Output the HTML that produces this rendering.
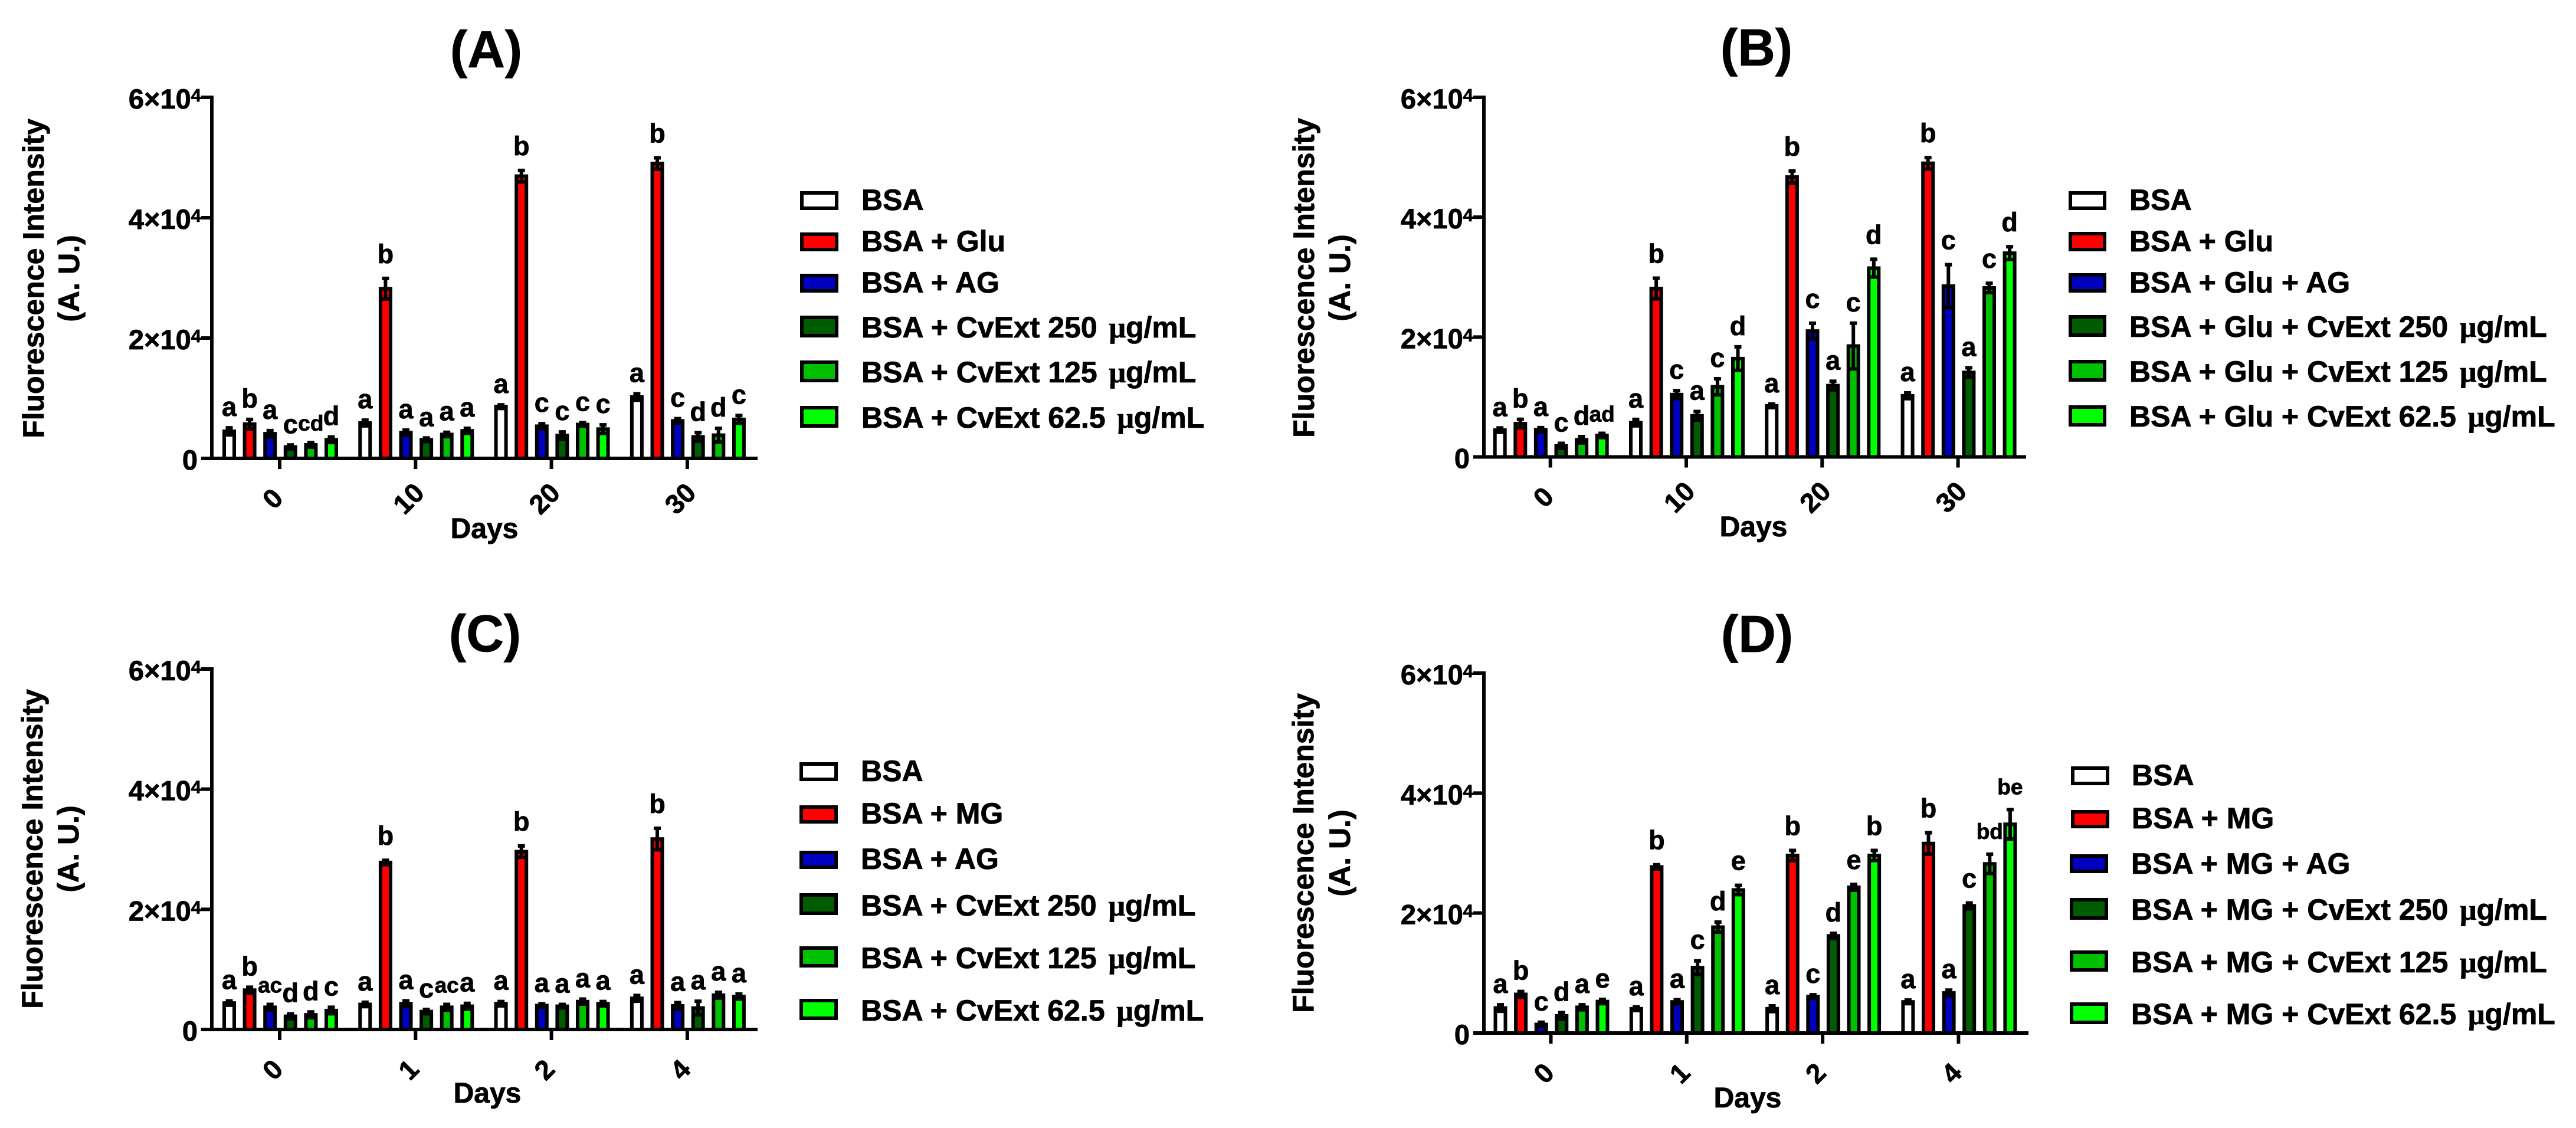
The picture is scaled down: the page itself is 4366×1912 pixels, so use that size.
<!DOCTYPE html>
<html lang="en">
<head>
<meta charset="utf-8">
<title>Fluorescence intensity panels A to D</title>
<style>
  html, body { margin: 0; padding: 0; background: #fff; }
  svg { display: block; }
  text { font-family: "Liberation Sans", sans-serif; font-weight: bold; fill: #000; stroke: #000; stroke-width: 0.8px; }
  .title { font-size: 88px; text-anchor: middle; }
  .axis-title { font-size: 48px; text-anchor: middle; }
  .y-title { font-size: 50px; text-anchor: middle; }
  .legend-text { font-size: 50px; }
  .mu { font-family: "Liberation Serif", serif; }
</style>
</head>
<body>
<svg id="figure" xmlns="http://www.w3.org/2000/svg" width="4366" height="1912" viewBox="0 0 4366 1912">
  <rect x="0" y="0" width="4366" height="1912" fill="#ffffff"/>

  <g id="panel-a">
    <text class="title" x="824" y="114">(A)</text>
    <text class="y-title" transform="translate(74 472) rotate(-90)">Fluorescence Intensity</text>
    <text class="y-title" transform="translate(134 472) rotate(-90)">(A. U.)</text>
    <text class="axis-title" x="821" y="912">Days</text>
    <g>
      <rect x="1359" y="327" width="59" height="26" fill="#ffffff" stroke="#000" stroke-width="6"/>
      <text class="legend-text" x="1460" y="356">BSA</text>
      <rect x="1359" y="397" width="59" height="26" fill="#ff0000" stroke="#000" stroke-width="6"/>
      <text class="legend-text" x="1460" y="426">BSA + Glu</text>
      <rect x="1359" y="467" width="59" height="26" fill="#0000c0" stroke="#000" stroke-width="6"/>
      <text class="legend-text" x="1460" y="496">BSA + AG</text>
      <rect x="1359" y="538" width="59" height="31" fill="#005c00" stroke="#000" stroke-width="6"/>
      <text class="legend-text" x="1460" y="572">BSA + CvExt 250 <tspan class="mu" dx="6">μ</tspan>g/mL</text>
      <rect x="1359" y="614" width="59" height="31" fill="#00c000" stroke="#000" stroke-width="6"/>
      <text class="legend-text" x="1460" y="648">BSA + CvExt 125 <tspan class="mu" dx="6">μ</tspan>g/mL</text>
      <rect x="1359" y="691" width="59" height="31" fill="#00ff00" stroke="#000" stroke-width="6"/>
      <text class="legend-text" x="1460" y="725">BSA + CvExt 62.5 <tspan class="mu" dx="6">μ</tspan>g/mL</text>
    </g>
  </g>

  <g id="panel-b">
    <text class="title" x="2977" y="111">(B)</text>
    <text class="y-title" transform="translate(2227 471) rotate(-90)">Fluorescence Intensity</text>
    <text class="y-title" transform="translate(2288 471) rotate(-90)">(A. U.)</text>
    <text class="axis-title" x="2972" y="909">Days</text>
    <g>
      <rect x="3509" y="327" width="58" height="26" fill="#ffffff" stroke="#000" stroke-width="6"/>
      <text class="legend-text" x="3609" y="356">BSA</text>
      <rect x="3509" y="396" width="58" height="27" fill="#ff0000" stroke="#000" stroke-width="6"/>
      <text class="legend-text" x="3609" y="426">BSA + Glu</text>
      <rect x="3509" y="466" width="58" height="27" fill="#0000c0" stroke="#000" stroke-width="6"/>
      <text class="legend-text" x="3609" y="496">BSA + Glu + AG</text>
      <rect x="3509" y="537" width="58" height="31" fill="#005c00" stroke="#000" stroke-width="6"/>
      <text class="legend-text" x="3609" y="571">BSA + Glu + CvExt 250 <tspan class="mu" dx="6">μ</tspan>g/mL</text>
      <rect x="3509" y="613" width="58" height="31" fill="#00c000" stroke="#000" stroke-width="6"/>
      <text class="legend-text" x="3609" y="647">BSA + Glu + CvExt 125 <tspan class="mu" dx="6">μ</tspan>g/mL</text>
      <rect x="3509" y="690" width="58" height="30" fill="#00ff00" stroke="#000" stroke-width="6"/>
      <text class="legend-text" x="3609" y="723">BSA + Glu + CvExt 62.5 <tspan class="mu" dx="6">μ</tspan>g/mL</text>
    </g>
  </g>

  <g id="panel-c">
    <text class="title" x="822" y="1104">(C)</text>
    <text class="y-title" transform="translate(72 1439) rotate(-90)">Fluorescence Intensity</text>
    <text class="y-title" transform="translate(133 1439) rotate(-90)">(A. U.)</text>
    <text class="axis-title" x="826" y="1869">Days</text>
    <g>
      <rect x="1358" y="1295" width="59" height="26" fill="#ffffff" stroke="#000" stroke-width="6"/>
      <text class="legend-text" x="1459" y="1324">BSA</text>
      <rect x="1358" y="1368" width="59" height="25" fill="#ff0000" stroke="#000" stroke-width="6"/>
      <text class="legend-text" x="1459" y="1396">BSA + MG</text>
      <rect x="1358" y="1445" width="59" height="25" fill="#0000c0" stroke="#000" stroke-width="6"/>
      <text class="legend-text" x="1459" y="1473">BSA + AG</text>
      <rect x="1358" y="1517" width="59" height="31" fill="#005c00" stroke="#000" stroke-width="6"/>
      <text class="legend-text" x="1459" y="1552">BSA + CvExt 250 <tspan class="mu" dx="6">μ</tspan>g/mL</text>
      <rect x="1358" y="1607" width="59" height="30" fill="#00c000" stroke="#000" stroke-width="6"/>
      <text class="legend-text" x="1459" y="1641">BSA + CvExt 125 <tspan class="mu" dx="6">μ</tspan>g/mL</text>
      <rect x="1358" y="1696" width="59" height="30" fill="#00ff00" stroke="#000" stroke-width="6"/>
      <text class="legend-text" x="1459" y="1730">BSA + CvExt 62.5 <tspan class="mu" dx="6">μ</tspan>g/mL</text>
    </g>
  </g>

  <g id="panel-d">
    <text class="title" x="2978" y="1105">(D)</text>
    <text class="y-title" transform="translate(2226 1446) rotate(-90)">Fluorescence Intensity</text>
    <text class="y-title" transform="translate(2288 1446) rotate(-90)">(A. U.)</text>
    <text class="axis-title" x="2962" y="1877">Days</text>
    <g>
      <rect x="3513" y="1302" width="59" height="26" fill="#ffffff" stroke="#000" stroke-width="6"/>
      <text class="legend-text" x="3613" y="1331">BSA</text>
      <rect x="3513" y="1376" width="59" height="25" fill="#ff0000" stroke="#000" stroke-width="6"/>
      <text class="legend-text" x="3613" y="1404">BSA + MG</text>
      <rect x="3511" y="1451" width="59" height="26" fill="#0000c0" stroke="#000" stroke-width="6"/>
      <text class="legend-text" x="3612" y="1481">BSA + MG + AG</text>
      <rect x="3511" y="1525" width="59" height="31" fill="#005c00" stroke="#000" stroke-width="6"/>
      <text class="legend-text" x="3612" y="1559">BSA + MG + CvExt 250 <tspan class="mu" dx="6">μ</tspan>g/mL</text>
      <rect x="3511" y="1614" width="59" height="30" fill="#00c000" stroke="#000" stroke-width="6"/>
      <text class="legend-text" x="3612" y="1648">BSA + MG + CvExt 125 <tspan class="mu" dx="6">μ</tspan>g/mL</text>
      <rect x="3511" y="1702" width="59" height="31" fill="#00ff00" stroke="#000" stroke-width="6"/>
      <text class="legend-text" x="3612" y="1736">BSA + MG + CvExt 62.5 <tspan class="mu" dx="6">μ</tspan>g/mL</text>
    </g>
  </g>
</svg>

<script>
// ---- chart data (one row per day, one column per series) ----
const categoriesDays30 = ['0', '10', '20', '30'];
const categoriesDays4 = ['0', '1', '2', '4'];
const seriesNames = ['bsa', 'stressor', 'ag', 'cvext-250', 'cvext-125', 'cvext-62'];
const seriesColors = ['#ffffff', '#ff0000', '#0000c0', '#005c00', '#00c000', '#00ff00'];
const yTickValues = [0, 20000, 40000, 60000];
const yTickMantissas = ['0', '2×10', '4×10', '6×10'];
const yTickExponents = ['', '4', '4', '4'];

const panelAValues = [
  [4500, 5700, 4100, 1900, 2250, 3100],
  [5880, 28200, 4280, 3090, 3980, 4580],
  [8600, 46900, 5350, 3800, 5640, 4870],
  [10200, 49000, 6240, 3570, 3860, 6480]
];
const panelAErrors = [
  [590, 780, 520, 330, 390, 460],
  [480, 1720, 420, 300, 360, 420],
  [300, 950, 420, 600, 300, 710],
  [530, 950, 360, 710, 1130, 650]
];
const panelALetters = [
  ['a', 'b', 'a', 'c', 'cd', 'd'],
  ['a', 'b', 'a', 'a', 'a', 'a'],
  ['a', 'b', 'c', 'c', 'c', 'c'],
  ['a', 'b', 'c', 'd', 'd', 'c']
];

const panelBValues = [
  [4470, 5550, 4530, 1850, 2860, 3580],
  [5720, 28100, 10400, 6860, 11700, 16400],
  [8530, 46700, 21000, 11900, 18500, 31500],
  [10200, 49000, 28500, 14100, 28200, 34000]
];
const panelBErrors = [
  [360, 720, 360, 420, 540, 360],
  [540, 1730, 660, 720, 1340, 1970],
  [300, 1010, 1310, 720, 3820, 1490],
  [480, 950, 3580, 780, 780, 1070]
];
const panelBLetters = [
  ['a', 'b', 'a', 'c', 'd', 'ad'],
  ['a', 'b', 'c', 'a', 'c', 'd'],
  ['a', 'b', 'c', 'a', 'c', 'd'],
  ['a', 'b', 'c', 'a', 'c', 'd']
];

const panelCValues = [
  [4400, 6550, 3690, 2200, 2440, 3150],
  [4170, 27800, 4290, 2980, 3690, 3870],
  [4290, 29600, 3990, 3870, 4640, 4290],
  [5180, 31700, 3930, 3570, 5710, 5480]
];
const panelCErrors = [
  [360, 480, 480, 420, 480, 540],
  [360, 360, 480, 360, 480, 480],
  [360, 950, 300, 300, 420, 360],
  [480, 1790, 540, 1130, 480, 420]
];
const panelCLetters = [
  ['a', 'b', 'ac', 'd', 'd', 'c'],
  ['a', 'b', 'a', 'c', 'ac', 'a'],
  ['a', 'b', 'a', 'a', 'a', 'a'],
  ['a', 'b', 'a', 'a', 'a', 'a']
];

const panelDValues = [
  [4170, 6440, 1430, 2860, 4290, 5250],
  [4050, 27700, 5190, 10900, 17650, 23850],
  [4050, 29600, 6080, 16200, 24300, 29600],
  [5190, 31600, 6680, 21200, 28200, 34800]
];
const panelDErrors = [
  [540, 480, 360, 540, 420, 360],
  [300, 360, 360, 1130, 840, 780],
  [480, 840, 300, 420, 480, 840],
  [300, 1790, 480, 480, 1610, 2440]
];
const panelDLetters = [
  ['a', 'b', 'c', 'd', 'a', 'e'],
  ['a', 'b', 'a', 'c', 'd', 'e'],
  ['a', 'b', 'c', 'd', 'e', 'b'],
  ['a', 'b', 'a', 'c', 'bd', 'be']
];

// ---- layout (geometry only, separate from the data above) ----
const Y_MAX = 60000;
const GROUP_STEP = 230.3;
const BAR_STEP = 34.6;
const BAR_OUTER = 23;
const STROKE = 6;
const CAP = 12;

const panels = [
  { id: 'panel-a', key: 'a', axisX: 359, left: 341, right: 1284, tick0: 474, top: 165, zero: 777,
    categories: categoriesDays30, values: panelAValues, errors: panelAErrors, letters: panelALetters },
  { id: 'panel-b', key: 'b', axisX: 2515, left: 2497, right: 3434, tick0: 2627.7, top: 165, zero: 774.5,
    categories: categoriesDays30, values: panelBValues, errors: panelBErrors, letters: panelBLetters },
  { id: 'panel-c', key: 'c', axisX: 359, left: 341, right: 1284, tick0: 474, top: 1134, zero: 1745,
    categories: categoriesDays4, values: panelCValues, errors: panelCErrors, letters: panelCLetters },
  { id: 'panel-d', key: 'd', axisX: 2515, left: 2497, right: 3438, tick0: 2628.5, top: 1141, zero: 1751,
    categories: categoriesDays4, values: panelDValues, errors: panelDErrors, letters: panelDLetters }
];

const SVG_NS = 'http://www.w3.org/2000/svg';

function make(tag, attrs) {
  const el = document.createElementNS(SVG_NS, tag);
  for (const k in attrs) el.setAttribute(k, attrs[k]);
  return el;
}

// axis functions
function yScale(p, v) {
  return p.zero - (v / Y_MAX) * (p.zero - p.top);
}
function xTick(p, groupIndex) {
  return p.tick0 + groupIndex * GROUP_STEP;
}
function xBar(p, groupIndex, seriesIndex) {
  return xTick(p, groupIndex) + (seriesIndex - 2.5) * BAR_STEP + 1;
}

function drawPanel(p) {
  const root = document.getElementById(p.id);

  // bars, error bars, significance letters
  p.values.forEach(function (row, g) {
    row.forEach(function (value, s) {
      const cx = xBar(p, g, s);
      const yTop = yScale(p, value);

      const bar = make('rect', {
        x: cx - (BAR_OUTER - STROKE) / 2,
        y: yTop,
        width: BAR_OUTER - STROKE,
        height: Math.max(0, p.zero - yTop),
        fill: seriesColors[s],
        stroke: '#000',
        'stroke-width': STROKE
      });
      
      
      root.appendChild(bar);

      const err = p.errors[g][s];
      const yHi = yScale(p, value + err);
      const yLo = yScale(p, value - err);
      const errorPath = make('path', {
        d: 'M' + (cx - CAP / 2) + ' ' + yHi + 'H' + (cx + CAP / 2) +
           'M' + cx + ' ' + yHi + 'V' + yLo +
           'M' + (cx - CAP / 2) + ' ' + yLo + 'H' + (cx + CAP / 2),
        fill: 'none',
        stroke: '#000',
        'stroke-width': STROKE
      });
      
      
      root.appendChild(errorPath);

      const word = p.letters[g][s];
      const lift = value > 20000 ? 26 : 20;
      const label = make('text', {
        x: cx,
        y: yHi - lift,
        'text-anchor': 'middle',
        'font-size': word.length > 1 ? 37 : 45
      });
      label.textContent = word;
      
      
      root.appendChild(label);
    });
  });

  // y axis
  const yAxis = make('line', {
    x1: p.axisX, x2: p.axisX, y1: p.top - 3, y2: p.zero,
    stroke: '#000', 'stroke-width': STROKE
  });
  
  
  root.appendChild(yAxis);

  yTickValues.forEach(function (tv, i) {
    const y = yScale(p, tv);
    const tick = make('line', {
      x1: p.axisX - 18, x2: p.axisX, y1: y, y2: y,
      stroke: '#000', 'stroke-width': STROKE
    });
    
    
    root.appendChild(tick);

    const label = make('text', {
      x: p.axisX - (yTickExponents[i] ? 18 : 24),
      y: y + 19,
      'text-anchor': 'end',
      'font-size': 47
    });
    label.textContent = yTickMantissas[i];
    if (yTickExponents[i]) {
      const sup = make('tspan', { 'font-size': 31, dy: -12 });
      sup.textContent = yTickExponents[i];
      label.appendChild(sup);
    }
    
    
    root.appendChild(label);
  });

  // x axis
  const xAxis = make('line', {
    x1: p.left, x2: p.right, y1: p.zero, y2: p.zero,
    stroke: '#000', 'stroke-width': STROKE
  });
  
  
  root.appendChild(xAxis);

  p.categories.forEach(function (cat, g) {
    const x = xTick(p, g);
    const tick = make('line', {
      x1: x, x2: x, y1: p.zero, y2: p.zero + 18,
      stroke: '#000', 'stroke-width': STROKE
    });
    
    
    root.appendChild(tick);

    const label = make('text', {
      transform: 'translate(' + (x - 12) + ' ' + (p.zero + 68) + ') rotate(-45)',
      x: 0,
      y: 16,
      'text-anchor': 'middle',
      'font-size': 46
    });
    label.textContent = cat;
    
    
    root.appendChild(label);
  });
}

panels.forEach(drawPanel);
</script>
</body>
</html>
